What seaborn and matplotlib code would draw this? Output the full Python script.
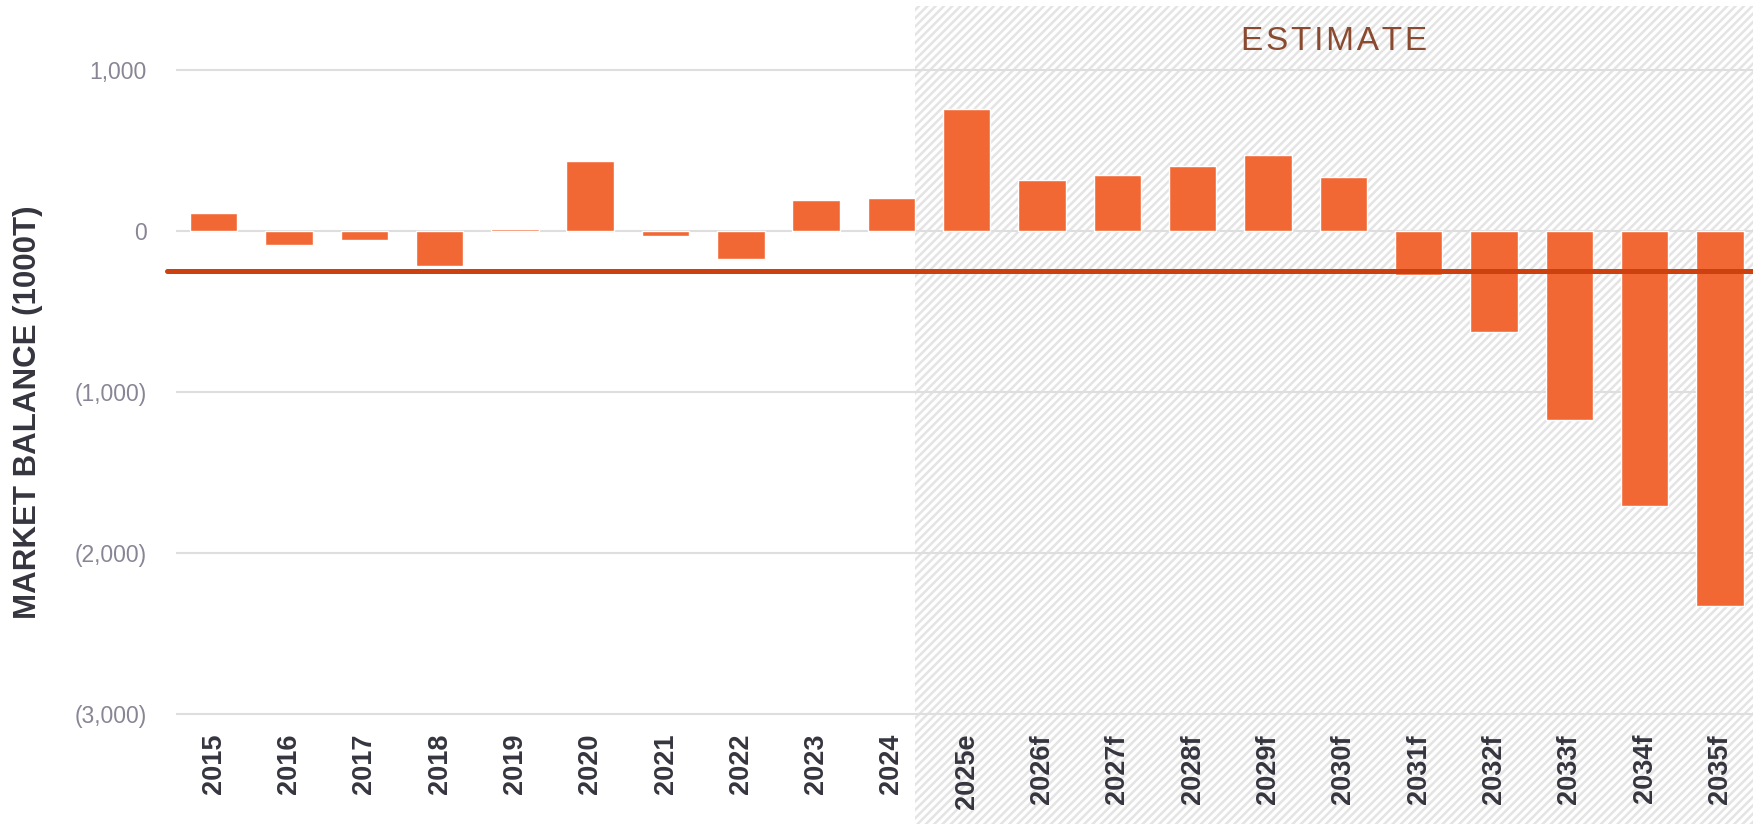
import matplotlib
matplotlib.use('Agg')
import matplotlib.pyplot as plt
from matplotlib.patches import Rectangle
from matplotlib.ticker import FuncFormatter
import seaborn as sns
import pandas as pd

# market balance per year, in thousand tonnes
years = ["2015", "2016", "2017", "2018", "2019", "2020", "2021", "2022", "2023", "2024",
         "2025e", "2026f", "2027f", "2028f", "2029f", "2030f",
         "2031f", "2032f", "2033f", "2034f", "2035f"]
balance = [114, -87, -58, -215, 12, 435, -33, -176, 193, 205,
           758, 315, 350, 406, 472, 337,
           -273, -625, -1172, -1710, -2327]
reference_level = -250
y_ticks = [1000, 0, -1000, -2000, -3000]
first_estimate = "2025e"

BAR = "#F26835"
LINE = "#CD400F"

sns.set_style("white")
plt.rcParams['font.family'] = ['Liberation Sans', 'DejaVu Sans']
plt.rcParams['hatch.linewidth'] = 1.8  # must be set before the patch is made

df = pd.DataFrame({"year": years, "balance": balance})

fig = plt.figure(figsize=(17.53, 8.24), dpi=100)
ax = fig.add_axes([176 / 1753, 0.1296, 1 - 176 / 1753, 0.7893])
ax.set_axisbelow(True)

bar_w = 0.63
sns.barplot(data=df, x="year", y="balance", color=BAR, saturation=1,
            width=bar_w, ax=ax, zorder=2)

ax.set_xlim(-0.5, 20.44)
ax.set_ylim(-3020, 1020)

# shaded "estimate" area, starting at the right edge of the last actual bar
start = years.index(first_estimate) - 1 + bar_w / 2
shade = Rectangle((start, -3800), 30, 5200, facecolor="white", edgecolor="#e4e4e4",
                  hatch="////", linewidth=0, zorder=0, clip_on=False)
ax.add_patch(shade)
ax.text((start + 20.44) / 2, 1180, "E S T I M A T E".replace(" ", "\u200a"),
        ha="center", va="center", fontsize=24, color="#8A4A30", clip_on=False)

ax.axhline(reference_level, xmin=-9 / 1577, xmax=1, color=LINE, lw=3.6,
           zorder=3, clip_on=False)

ax.set_yticks(y_ticks)
ax.yaxis.set_major_formatter(FuncFormatter(
    lambda v, _: f"({abs(v):,.0f})" if v < 0 else f"{v:,.0f}"))
ax.grid(axis="y", color="#dedede", lw=1.5)
ax.grid(axis="x", visible=False)
ax.tick_params(axis="y", length=0, pad=21, labelsize=16.5, labelcolor="#8A8595")
ax.tick_params(axis="x", length=0, pad=12, labelsize=19.5, labelcolor="#35353F")
for lab in ax.get_xticklabels():
    lab.set_rotation(90)
    lab.set_fontweight("bold")

sns.despine(ax=ax, left=True, bottom=True)
ax.set_xlabel("")
ax.set_ylabel("")
fig.text(28 / 1753, 1 - 412 / 824, "MARKET BALANCE (1000T)", rotation=90,
         ha="center", va="center", fontsize=22.5, fontweight="bold", color="#35353F")

fig.savefig("out.png", dpi=100)
